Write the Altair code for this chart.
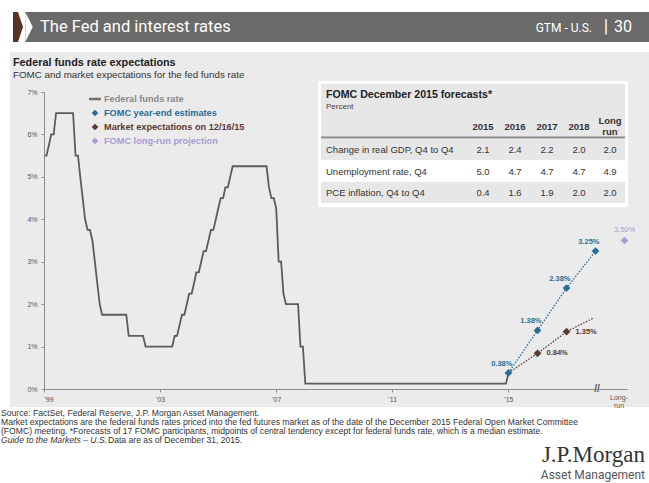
import altair as alt
import pandas as pd

# ---------------- data ----------------
fed_first_month = "1999-12-01"
# Federal funds target rate, monthly (Dec 1999 .. Dec 2015), %
fed_rate = [
    5.50,                                                                    # 1999 Dec
    5.50, 5.75, 6.00, 6.00, 6.50, 6.50, 6.50, 6.50, 6.50, 6.50, 6.50, 6.50,  # 2000
    5.50, 5.50, 5.00, 4.50, 4.00, 3.75, 3.75, 3.50, 3.00, 2.50, 2.00, 1.75,  # 2001
    1.75, 1.75, 1.75, 1.75, 1.75, 1.75, 1.75, 1.75, 1.75, 1.75, 1.25, 1.25,  # 2002
    1.25, 1.25, 1.25, 1.25, 1.25, 1.00, 1.00, 1.00, 1.00, 1.00, 1.00, 1.00,  # 2003
    1.00, 1.00, 1.00, 1.00, 1.00, 1.25, 1.25, 1.50, 1.75, 1.75, 2.00, 2.25,  # 2004
    2.25, 2.50, 2.75, 2.75, 3.00, 3.25, 3.25, 3.50, 3.75, 3.75, 4.00, 4.25,  # 2005
    4.50, 4.50, 4.75, 4.75, 5.00, 5.25, 5.25, 5.25, 5.25, 5.25, 5.25, 5.25,  # 2006
    5.25, 5.25, 5.25, 5.25, 5.25, 5.25, 5.25, 5.25, 4.75, 4.50, 4.50, 4.25,  # 2007
    3.00, 3.00, 2.25, 2.00, 2.00, 2.00, 2.00, 2.00, 2.00, 1.00, 1.00, 0.125, # 2008
    0.125, 0.125, 0.125, 0.125, 0.125, 0.125, 0.125, 0.125, 0.125, 0.125, 0.125, 0.125,  # 2009
    0.125, 0.125, 0.125, 0.125, 0.125, 0.125, 0.125, 0.125, 0.125, 0.125, 0.125, 0.125,  # 2010
    0.125, 0.125, 0.125, 0.125, 0.125, 0.125, 0.125, 0.125, 0.125, 0.125, 0.125, 0.125,  # 2011
    0.125, 0.125, 0.125, 0.125, 0.125, 0.125, 0.125, 0.125, 0.125, 0.125, 0.125, 0.125,  # 2012
    0.125, 0.125, 0.125, 0.125, 0.125, 0.125, 0.125, 0.125, 0.125, 0.125, 0.125, 0.125,  # 2013
    0.125, 0.125, 0.125, 0.125, 0.125, 0.125, 0.125, 0.125, 0.125, 0.125, 0.125, 0.125,  # 2014
    0.125, 0.125, 0.125, 0.125, 0.125, 0.125, 0.125, 0.125, 0.125, 0.125, 0.125, 0.375,  # 2015
]

fomc_dates = ["2015-12-01", "2016-12-01", "2017-12-01", "2018-12-01"]
fomc_vals = [0.38, 1.38, 2.38, 3.25]

market_dates = ["2015-12-01", "2016-12-01", "2017-12-01", "2018-11-01"]
market_vals = [0.38, 0.84, 1.35, 1.67]
market_marked = [False, True, True, False]

longrun_dates = ["2019-12-01"]
longrun_vals = [3.50]

x_tick_years = [1999, 2003, 2007, 2011, 2015]
y_ticks = [0, 1, 2, 3, 4, 5, 6, 7]

table_title = "FOMC December 2015 forecasts*"
table_subtitle = "Percent"
table_columns = ["2015", "2016", "2017", "2018", "Long|run"]
table_rows = ["Change in real GDP, Q4 to Q4", "Unemployment rate, Q4", "PCE inflation, Q4 to Q4"]
table_gdp = [2.1, 2.4, 2.2, 2.0, 2.0]
table_unemp = [5.0, 4.7, 4.7, 4.7, 4.9]
table_pce = [0.4, 1.6, 1.9, 2.0, 2.0]

legend_labels = ["Federal funds rate", "FOMC year-end estimates",
                 "Market expectations on 12/16/15", "FOMC long-run projection"]

footnotes = [
    "Source: FactSet, Federal Reserve, J.P. Morgan Asset Management.",
    "Market expectations are the federal funds rates priced into the fed futures market as of the date of the December 2015 Federal Open Market Committee",
    "(FOMC) meeting. *Forecasts of 17 FOMC participants, midpoints of central tendency except for federal funds rate, which is a median estimate.",
]
footnote_italic = "Guide to the Markets \u2013 U.S."
footnote_last = "Data are as of December 31, 2015."

# ---------------- styling ----------------
OX, OY = 44, 92          # canvas position of plot origin
W, H = 583, 297
FONT = "Liberation Sans"
C_FED = "#5c5c5c"
C_FOMC = "#2a6d96"
C_MKT = "#5b3a30"
C_LR = "#a99bd6"
C_PANEL = "#ebebeb"

fed_df = pd.DataFrame({
    "date": pd.date_range(fed_first_month, periods=len(fed_rate), freq="MS"),
    "rate": fed_rate,
})
fomc_df = pd.DataFrame({"date": pd.to_datetime(fomc_dates), "rate": fomc_vals})
fomc_df["label"] = [f"{v:.2f}%" for v in fomc_vals]
mkt_df = pd.DataFrame({"date": pd.to_datetime(market_dates), "rate": market_vals,
                       "marked": market_marked})
mkt_df["label"] = [f"{v:.2f}%" for v in market_vals]
lr_df = pd.DataFrame({"date": pd.to_datetime(longrun_dates), "rate": longrun_vals})
lr_df["label"] = [f"{v:.2f}%" for v in longrun_vals]

xscale = alt.Scale(domain=[alt.DateTime(year=1999, month=12, date=1),
                           alt.DateTime(year=2020, month=1, date=1)])
yscale = alt.Scale(domain=[0, 7], nice=False)

x_axis = alt.Axis(values=[alt.DateTime(year=y, month=12, date=1) for y in x_tick_years],
                  labelExpr="\"'\" + timeFormat(datum.value, '%y')", title=None,
                  grid=False, tickSize=3, labelPadding=3, domainColor="#8c8c8c",
                  tickColor="#8c8c8c", labelColor="#555555", labelFontSize=7,
                  labelFont=FONT, zindex=1)
y_axis = alt.Axis(values=y_ticks, labelExpr="datum.value + '%'", title=None, grid=False,
                  tickSize=3, labelPadding=4, domainColor="#8c8c8c", tickColor="#8c8c8c",
                  labelColor="#555555", labelFontSize=7, labelFont=FONT, zindex=1)


def X():
    return alt.X("date:T", scale=xscale, axis=x_axis)


def Y():
    return alt.Y("rate:Q", scale=yscale, axis=y_axis)


def one(**kw):
    return alt.Data(values=[kw if kw else {"k": 0}])


def ptext(text, x, y, size=8, color="#333333", weight="normal", align="left",
          font=FONT, style="normal", baseline="middle"):
    return alt.Chart(one(t=text)).mark_text(
        align=align, baseline=baseline, fontSize=size, color=color,
        fontWeight=weight, font=font, fontStyle=style
    ).encode(x=alt.value(x - OX), y=alt.value(y - OY), text="t:N")


def prect(x1, x2, y1, y2, color):
    return alt.Chart(one()).mark_rect(color=color).encode(
        x=alt.value(x1 - OX), x2=alt.value(x2 - OX),
        y=alt.value(y1 - OY), y2=alt.value(y2 - OY))


def pshape(path, x, y, size, color):
    return alt.Chart(one()).mark_point(shape=path, filled=True, size=size,
                                       color=color, opacity=1, strokeWidth=0).encode(
        x=alt.value(x - OX), y=alt.value(y - OY))


layers = []

# background panel
layers.append(prect(10, 649, 52, 407, C_PANEL))

# header bar
layers.append(prect(25, 649, 12, 42, "#6a6a6a"))
layers.append(pshape("M-0.25,-1L0.25,0L-0.25,1Z", 29, 27, 900, "white"))
layers.append(pshape("M-0.333,-1L0,-1L0.333,0L0,1L-0.333,1Z", 18, 27, 900, "#5a3325"))
layers.append(ptext("The Fed and interest rates", 40, 27, size=16.5, color="white", font="Roboto"))
layers.append(ptext("GTM - U.S.", 592, 28, size=12, color="white", align="right", font="Roboto"))
layers.append(ptext("|", 606, 27, size=18, color="white", align="center", font="Roboto"))
layers.append(ptext("30", 614, 27, size=16, color="white", font="Roboto"))

# titles
layers.append(ptext("Federal funds rate expectations", 13, 63, size=10.8, color="#222222", weight="bold"))
layers.append(ptext("FOMC and market expectations for the fed funds rate", 13, 75, size=9.8, color="#333333"))

# table
layers.append(prect(318, 628, 81, 207, "white"))
layers.append(prect(321, 625, 84, 137, "#e7e7e7"))
layers.append(prect(321, 625, 136.5, 138.5, "#8a8a8a"))
layers.append(prect(321, 625, 139, 160, "#e7e7e7"))
layers.append(prect(321, 625, 182, 203, "#e7e7e7"))
layers.append(ptext(table_title, 326, 95, size=10.6, color="#222222", weight="bold"))
layers.append(ptext(table_subtitle, 326, 107, size=8, color="#444444"))
col_x = [483, 515, 547, 579, 610]
for cx, head in zip(col_x, table_columns):
    parts = head.split("|")
    if len(parts) == 1:
        layers.append(ptext(parts[0], cx, 127, size=9.5, color="#333333", weight="bold", align="center"))
    else:
        layers.append(ptext(parts[0], cx, 121, size=9.5, color="#333333", weight="bold", align="center"))
        layers.append(ptext(parts[1], cx, 132, size=9.5, color="#333333", weight="bold", align="center"))
row_y = [150, 172, 193]
for ry, name, vals in zip(row_y, table_rows, [table_gdp, table_unemp, table_pce]):
    layers.append(ptext(name, 326, ry, size=9.5, color="#333333"))
    for cx, v in zip(col_x, vals):
        layers.append(ptext(f"{v:.1f}", cx, ry, size=9.5, color="#333333", align="center"))

# legend
leg_y = [99, 113, 127, 141]
layers.append(alt.Chart(one()).mark_rule(color="#6d6d6d", strokeWidth=2.5).encode(
    x=alt.value(89 - OX), x2=alt.value(101 - OX), y=alt.value(leg_y[0] - OY)))
leg_colors = ["#8a8a8a", C_FOMC, C_MKT, C_LR]
for i, (lbl, col) in enumerate(zip(legend_labels, leg_colors)):
    if i > 0:
        layers.append(alt.Chart(one()).mark_point(shape="diamond", filled=True, size=45,
                                                  color=col, opacity=1).encode(
            x=alt.value(95 - OX), y=alt.value(leg_y[i] - OY)))
    layers.append(ptext(lbl, 104, leg_y[i], size=9.2, color=col, weight="bold"))

# fed funds line with axes
layers.append(alt.Chart(fed_df).mark_line(color=C_FED, strokeWidth=1.8).encode(
    x=X(), y=Y()))

# FOMC / market dotted lines + markers + labels
layers.append(alt.Chart(fomc_df).mark_line(color=C_FOMC, strokeWidth=1.3, strokeDash=[1.5, 1.5]).encode(x=X(), y=Y()))
layers.append(alt.Chart(mkt_df).mark_line(color=C_MKT, strokeWidth=1.3, strokeDash=[1.5, 1.5]).encode(x=X(), y=Y()))
layers.append(alt.Chart(mkt_df).transform_filter("datum.marked").mark_point(
    shape="diamond", filled=True, size=60, color=C_MKT, opacity=1).encode(x=X(), y=Y()))
layers.append(alt.Chart(mkt_df).transform_filter("datum.marked").mark_text(
    align="left", dx=9, fontSize=7.5, fontWeight="bold", color=C_MKT, font=FONT).encode(
    x=X(), y=Y(), text="label:N"))
layers.append(alt.Chart(fomc_df).mark_point(
    shape="diamond", filled=True, size=60, color=C_FOMC, opacity=1).encode(x=X(), y=Y()))
layers.append(alt.Chart(fomc_df).mark_text(
    align="right", dx=4, dy=-9, fontSize=7.5, fontWeight="bold", color=C_FOMC, font=FONT).encode(
    x=X(), y=Y(), text="label:N"))
layers.append(alt.Chart(lr_df).mark_point(
    shape="diamond", filled=True, size=60, color=C_LR, opacity=1).encode(x=X(), y=Y()))
layers.append(alt.Chart(lr_df).mark_text(
    align="center", dy=-11, fontSize=7.5, color=C_LR, font=FONT).encode(
    x=X(), y=Y(), text="label:N"))

# axis break and long-run label
layers.append(ptext("//", 597, 389, size=10, color="#555555", align="center", weight="bold"))
layers.append(ptext("Long-", 619, 398, size=7, color="#555555", align="center"))
layers.append(ptext("run", 619, 406, size=7, color="#555555", align="center"))

# footnotes
fn_y = [413, 422, 431]
for fy, txt in zip(fn_y, footnotes):
    layers.append(ptext(txt, 1, fy, size=8.6, color="#333333"))
layers.append(ptext(footnote_italic, 1, 440, size=8.6, color="#333333", style="italic"))
layers.append(ptext(footnote_last, 108, 440, size=8.6, color="#333333"))

# logo
layers.append(ptext("J.P.Morgan", 645, 455, size=23, color="#333333", align="right",
                    font="Liberation Serif"))
layers.append(ptext("Asset Management", 645, 475, size=12, color="#555555", align="right",
                    font="Roboto"))

chart = alt.layer(*layers).properties(
    width=W, height=H,
    padding={"left": OX, "top": OY, "right": 649 - OX - W, "bottom": 483 - OY - H},
    autosize=alt.AutoSizeParams(type="none"),
    background="white",
).configure_view(stroke=None)

chart.save("out.html", embed_options={"renderer": "svg", "actions": False})
